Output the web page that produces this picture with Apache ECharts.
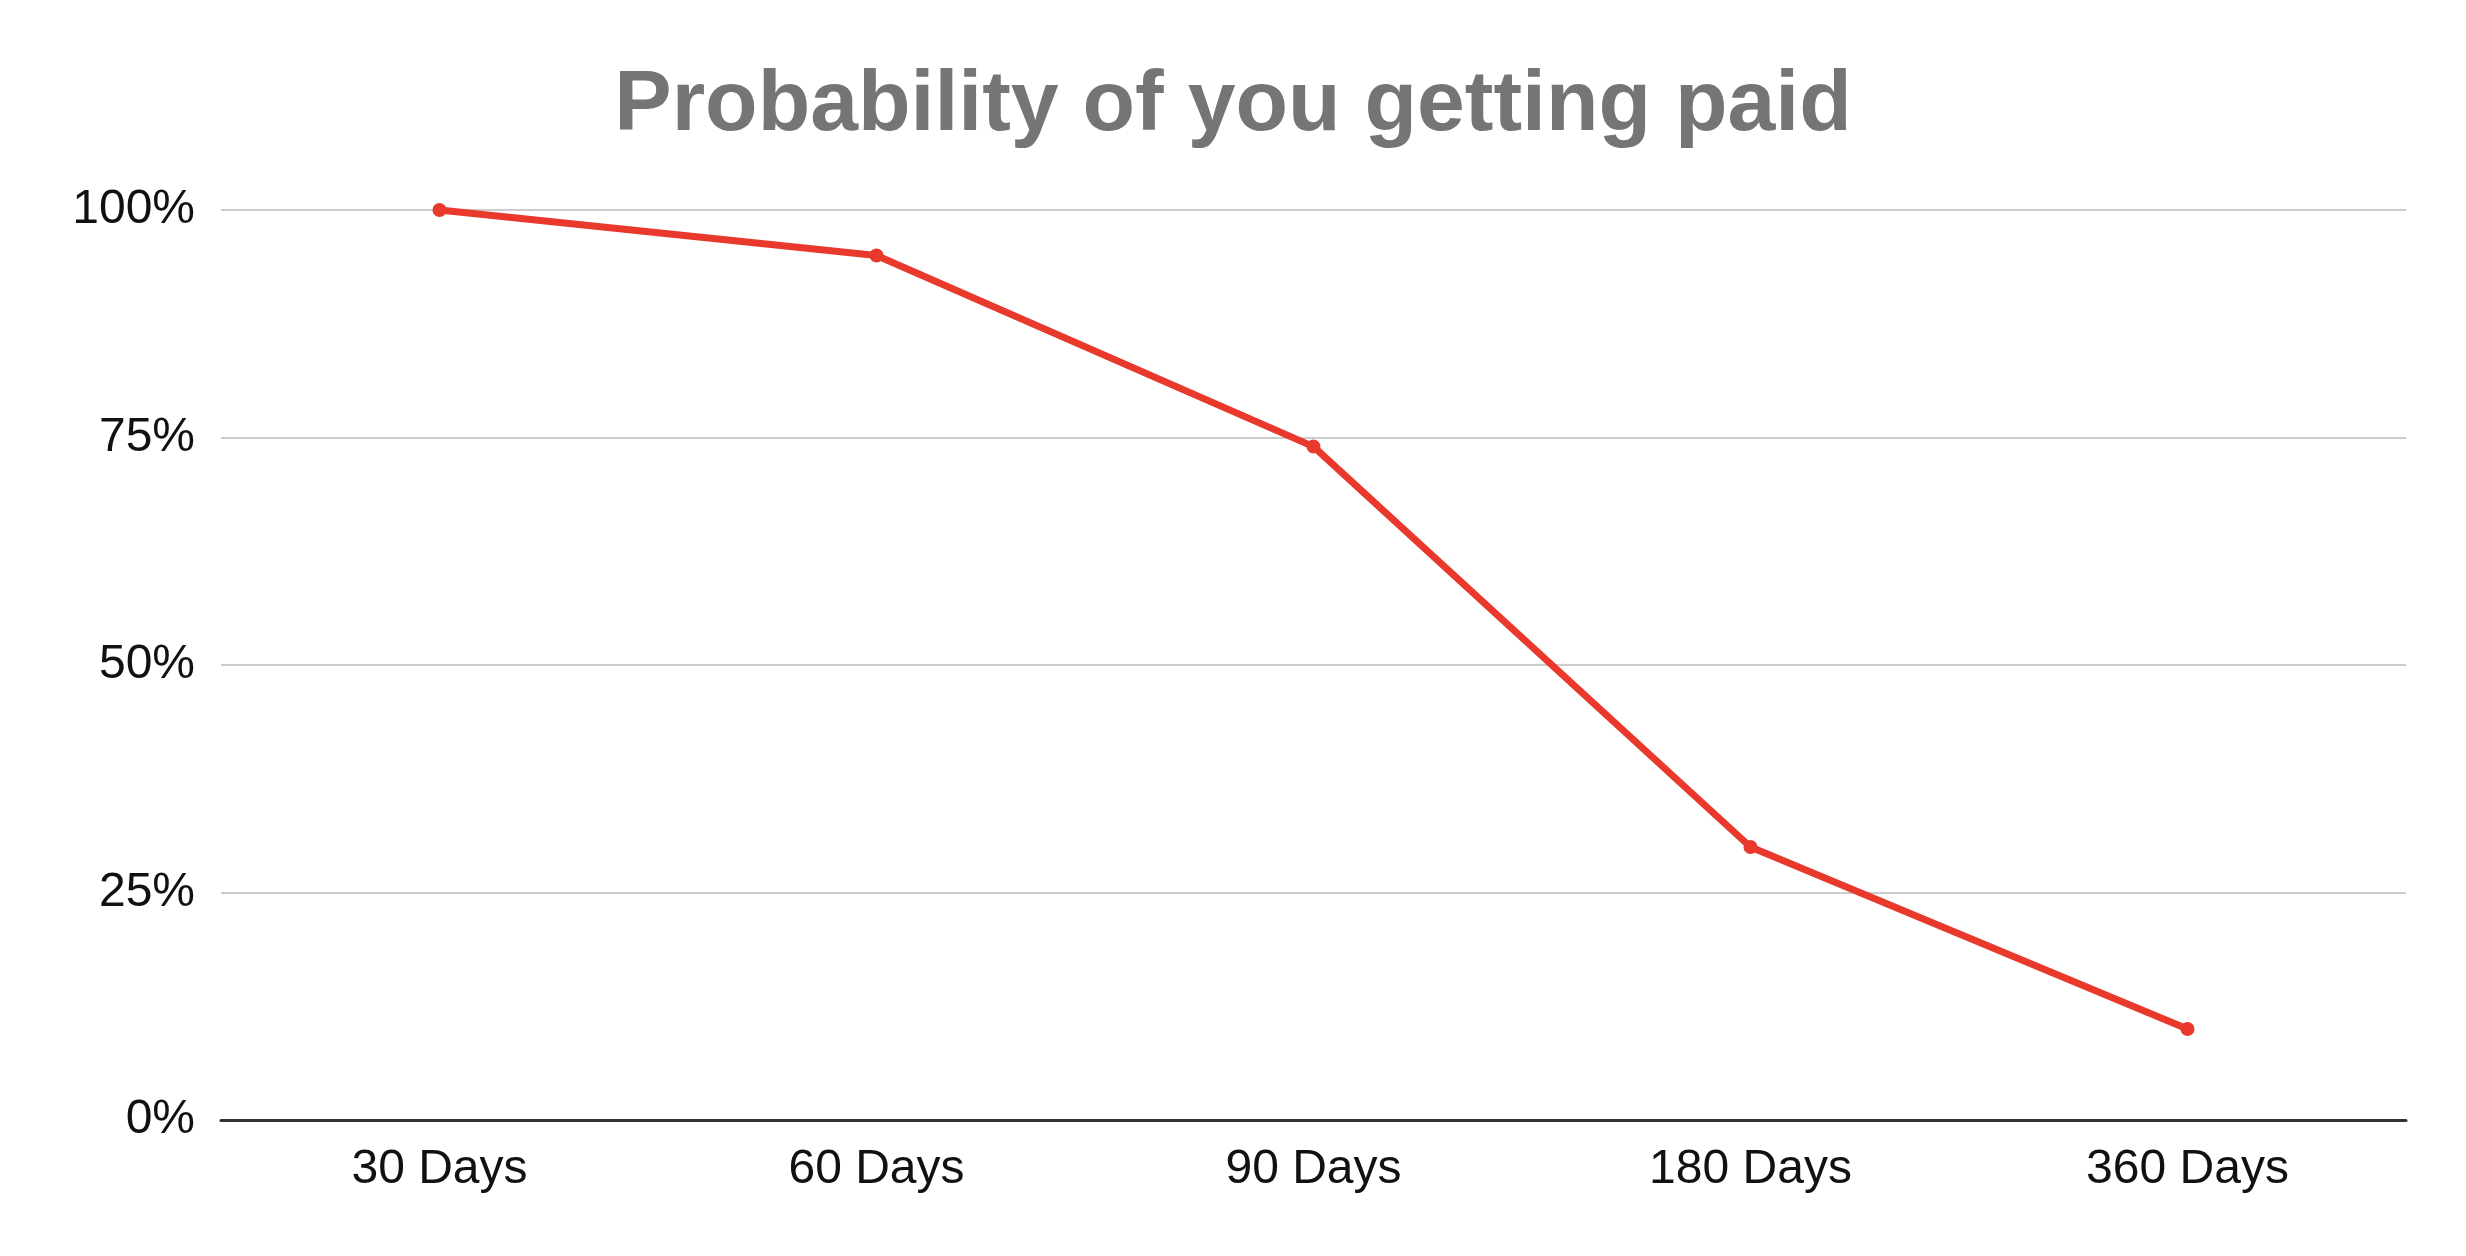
<!DOCTYPE html>
<html><head><meta charset="utf-8">
<script src="https://cdn.jsdelivr.net/npm/echarts@6/dist/echarts.min.js"></script>
<style>html,body{margin:0;background:#fff}#c{width:2466px;height:1256px}</style>
</head><body><div id="c"></div>
<script>
const categories = ['30 Days','60 Days','90 Days','180 Days','360 Days'];
const probability = [100, 95, 74, 30, 10];
const chart = echarts.init(document.getElementById('c'));
chart.setOption({
  backgroundColor:'#fff',
  title:{text:'Probability of you getting paid',left:'center',top:58,
    textStyle:{fontFamily:'Liberation Sans, Arial',fontWeight:'bold',fontSize:86,color:'#757575'}},
  grid:{left:221,right:60,top:210,bottom:136},
  xAxis:{type:'category',data:categories,boundaryGap:true,
    axisLine:{lineStyle:{color:'#333',width:3}},axisTick:{show:false},
    axisLabel:{fontFamily:'Liberation Sans, Arial',fontSize:48,color:'#111',margin:26}},
  yAxis:{type:'value',min:0,max:100,interval:25,
    axisLabel:{formatter:'{value}%',fontFamily:'Liberation Sans, Arial',fontSize:48,color:'#111',margin:26},
    splitLine:{lineStyle:{color:'#ccc',width:2}},axisLine:{show:false},axisTick:{show:false}},
  series:[{type:'line',data:probability,symbol:'circle',symbolSize:14,
    lineStyle:{color:'#e8392c',width:7},itemStyle:{color:'#e8392c'}}]
});
</script></body></html>
